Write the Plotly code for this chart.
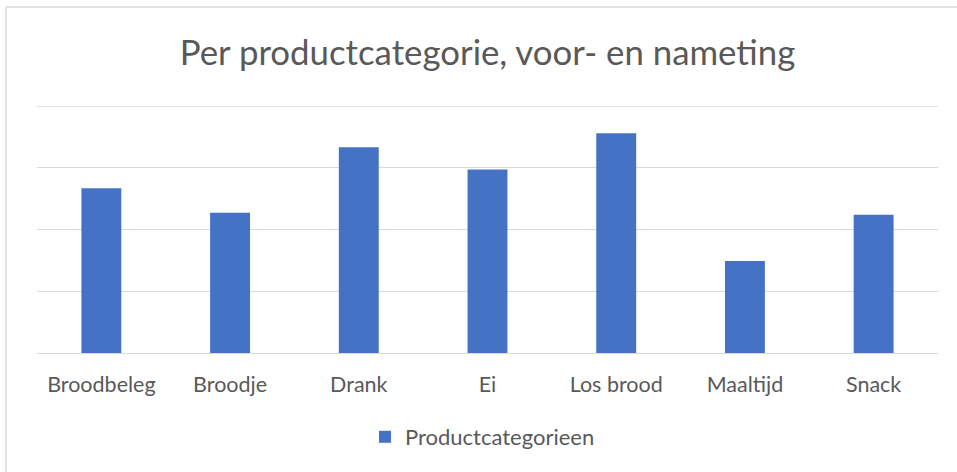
import plotly.graph_objects as go

categories = ["Broodbeleg", "Broodje", "Drank", "Ei", "Los brood", "Maaltijd", "Snack"]
values = [2.67, 2.27, 3.33, 2.97, 3.56, 1.49, 2.24]
series_name = "Productcategorieen"
title_text = "Per productcategorie, voor- en nameting"
y_max = 4

W, H = 957, 472
ML, MR, MT, MB = 37, 19, 106, 119
PW, PH = W - ML - MR, H - MT - MB

TEXT = "#595959"
GRID = "#d9d9d9"
BLUE = "#4472C4"
FONT = "Lato"


def px_to_paper_x(px):
    return (px - ML) / PW


def px_to_paper_y(py):
    return (H - MB - py) / PH


fig = go.Figure(
    go.Bar(
        x=categories,
        y=values,
        name=series_name,
        marker=dict(color=BLUE, line=dict(width=0)),
        showlegend=True,
    )
)

fig.update_layout(
    width=W,
    height=H,
    margin=dict(l=ML, r=MR, t=MT, b=MB),
    paper_bgcolor="white",
    plot_bgcolor="white",
    bargap=0.69,
    font=dict(family=FONT, color=TEXT, size=21),
    title=dict(
        text=title_text,
        x=0.5,
        xref="paper",
        xanchor="center",
        y=1 - 53 / H,
        yanchor="middle",
        font=dict(family=FONT, size=34.8, color=TEXT),
    ),
    legend=dict(
        orientation="h",
        x=px_to_paper_x(365),
        xanchor="left",
        y=px_to_paper_y(437),
        yanchor="middle",
        font=dict(family=FONT, size=22, color=TEXT),
        itemwidth=30,
    ),
    xaxis=dict(
        showgrid=False,
        showline=False,
        ticks="",
        tickfont=dict(family=FONT, size=21.5, color=TEXT),
        ticklabelstandoff=16,
    ),
    yaxis=dict(
        range=[0, y_max],
        dtick=1,
        showgrid=True,
        gridcolor=GRID,
        gridwidth=1.4,
        zeroline=True,
        zerolinecolor=GRID,
        zerolinewidth=1.4,
        showticklabels=False,
        ticks="",
        fixedrange=True,
    ),
    shapes=[
        # top gridline at the axis maximum (Plotly skips grid lines on the plot edge)
        dict(type="line", xref="paper", yref="y", x0=0, x1=1, y0=y_max, y1=y_max,
             line=dict(color=GRID, width=1.4), layer="below"),
        # chart-area frame: top and left edges
        dict(type="line", xref="paper", yref="paper",
             x0=px_to_paper_x(6), x1=px_to_paper_x(W), y0=px_to_paper_y(7), y1=px_to_paper_y(7),
             line=dict(color=GRID, width=1.5)),
        dict(type="line", xref="paper", yref="paper",
             x0=px_to_paper_x(6), x1=px_to_paper_x(6), y0=px_to_paper_y(7), y1=px_to_paper_y(H),
             line=dict(color=GRID, width=1.5)),
    ],
)

fig.write_html("out.html")
